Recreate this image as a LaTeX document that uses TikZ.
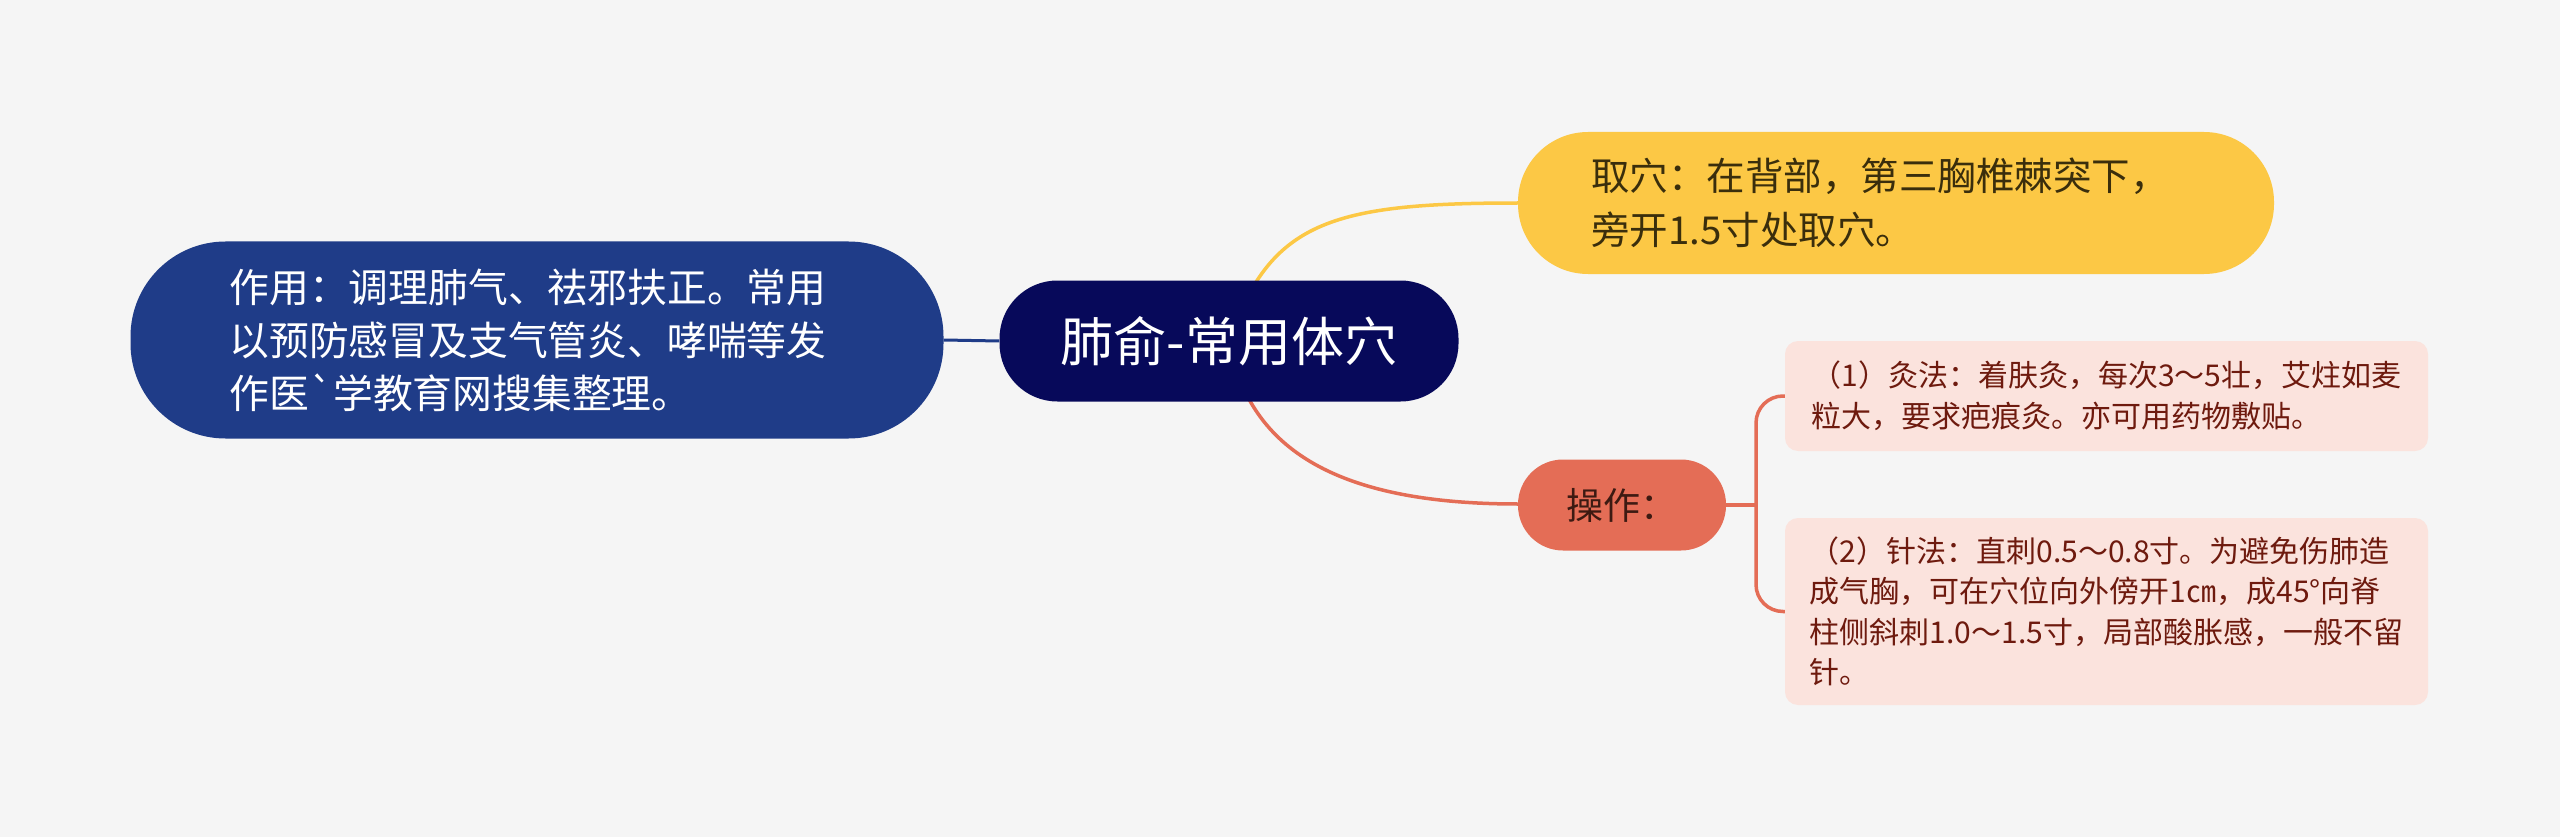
\documentclass[tikz,border=0pt]{standalone}
\usepackage{fontspec}
\newfontfamily\cjk{Noto Sans CJK SC}
\definecolor{bg}{HTML}{F5F5F5}
\definecolor{leftblue}{HTML}{1F3C88}
\definecolor{navy}{HTML}{07095A}
\definecolor{yel}{HTML}{FCC845}
\definecolor{yeltext}{HTML}{3A2E0C}
\definecolor{opred}{HTML}{E46D56}
\definecolor{optext}{HTML}{3D1A12}
\definecolor{boxfill}{HTML}{FBE3DD}
\definecolor{boxtext}{HTML}{6E1A0E}
\begin{document}
\begin{tikzpicture}[x=1pt,y=-1pt,
  pill/.style={inner sep=0pt, align=left},
  leaf/.style={pill, fill=boxfill, text=boxtext, rounded corners=13pt,
    minimum width=643pt, font=\cjk\fontsize{30}{40.5}\selectfont},
  link/.style={line width=3.5pt}]
\fill[bg] (0,0) rectangle (2560,837);
\useasboundingbox (0,0) rectangle (2560,837);

% connectors (drawn beneath nodes)
\coordinate (cc) at (1229,341);
\draw[link, yel] (cc) .. controls (1270,222) and (1330,203) .. (1518,203);
\draw[link, opred] (cc) .. controls (1248,445) and (1330,504) .. (1518,504);

% nodes
\node[pill, fill=navy, text=white, minimum width=459pt, minimum height=121pt,
  rounded corners=58pt, font=\cjk\fontsize{53}{60}\selectfont] (c) at (1229,341) {肺俞-常用体穴};

\node[pill, fill=leftblue, text=white, minimum width=813pt, minimum height=197pt,
  rounded corners=95pt, font=\cjk\fontsize{39.8}{53}\selectfont] (zy) at (537,340)
  {作用：调理肺气、祛邪扶正。常用\hspace*{18pt}\\以预防感冒及支气管炎、哮喘等发\\作医{\char"60}学教育网搜集整理。};

\node[pill, fill=yel, text=yeltext, minimum width=756pt, minimum height=142pt,
  rounded corners=70pt, font=\cjk\fontsize{38.5}{54}\selectfont] (qx) at (1896,203)
  {取穴：在背部，第三胸椎棘突下，\hspace*{32pt}\\旁开1.5寸处取穴。};

\node[pill, fill=opred, text=optext, minimum width=208pt, minimum height=91pt,
  rounded corners=45pt, font=\cjk\fontsize{37}{44}\selectfont] (op) at (1622,505) {操作：};

\node[leaf, minimum height=110pt] (b1) at (2106.5,396)
  {（1）灸法：着肤灸，每次3～5壮，艾炷如麦\\粒大，要求疤痕灸。亦可用药物敷贴。};
\node[leaf, minimum height=187pt] (b2) at (2106.5,611.5)
  {（2）针法：直刺0.5～0.8寸。为避免伤肺造\\成气胸，可在穴位向外傍开1㎝，成45°向脊\\柱侧斜刺1.0～1.5寸，局部酸胀感，一般不留\\针。};

\draw[link, leftblue, line width=3pt] (zy.east) -- (c.west);
\coordinate (br) at (1756,505);
\draw[link, opred] (op.east) -- (br);
\draw[link, opred, rounded corners=27pt] (br) |- (b1.west);
\draw[link, opred, rounded corners=27pt] (br) |- (b2.west);
\end{tikzpicture}
\end{document}
